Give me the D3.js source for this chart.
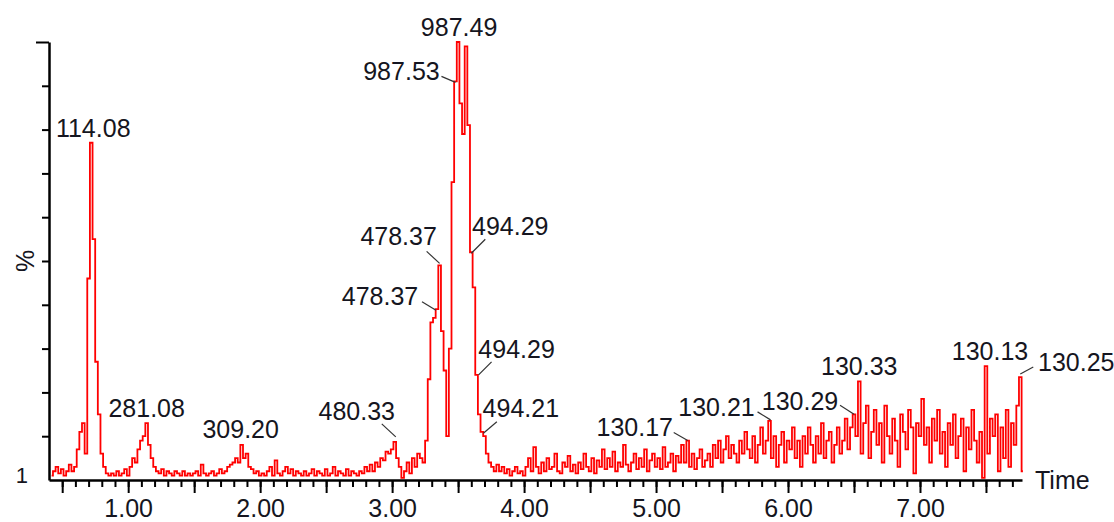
<!DOCTYPE html>
<html>
<head>
<meta charset="utf-8">
<script src="https://cdn.jsdelivr.net/npm/d3@7"></script>
<style>
    body { margin: 0; background: #fff; }
    svg { display: block; font-family: "Liberation Sans", Arial, sans-serif; }
    .axis text { font-size: 25px; fill: #151520; }
    .peak-label { font-size: 25px; fill: #151520; }
    .axis-title { font-size: 25px; fill: #151520; }
</style>
</head>
<body>
<svg id="chart"></svg>
<script>
// one scan every 0.02 min, first scan at 0.42 min
const scanStart = 0.42;
const scanStep = 0.02;

// relative intensity (%) of each scan, 10 scans (0.2 min) per row
const intensity = [
    1, 2, 3, 1.5, 2.5, 1, 2, 3.5, 2, 3,          // 0.42
    7, 11, 13, 6, 46, 77, 55, 27, 15, 6,         // 0.62
    3, 1.5, 1, 1.5, 1, 2, 1, 1.5, 2.5, 1,        // 0.82
    3, 5, 4, 7, 9, 10, 13, 8, 5, 3,              // 1.02
    2, 1.5, 2.5, 1, 2, 1.5, 1, 2, 1.5, 1,        // 1.22
    2, 1, 1.5, 1, 1.5, 2, 1, 3.5, 1.5, 1,        // 1.42
    1.5, 2, 1, 1.5, 2.5, 1.5, 2, 3, 3.5, 4,      // 1.62
    5, 4, 8, 5, 6, 3, 2.5, 1.5, 2, 1,            // 1.82
    1.5, 1, 2, 3, 1, 4.5, 1.5, 1, 2, 3,          // 2.02
    1.5, 2.5, 1, 2, 1.5, 1, 2, 1, 1.5, 2.5,      // 2.22
    1, 2, 1.5, 1, 2.5, 1, 1.5, 3, 1, 2,          // 2.42
    1.5, 1, 2.5, 1, 2, 1.5, 1, 2, 1.5, 3,        // 2.62
    2, 3.5, 2, 4, 3, 5, 4.5, 6.5, 6, 7,          // 2.82
    8.7, 5, 3, 0.5, 2, 4, 1.5, 5, 3, 6,          // 3.02
    5, 4, 9, 23, 36, 37, 39, 49, 34, 25,         // 3.22
    10, 30, 68, 91, 100, 86, 79, 99, 81, 52,     // 3.42
    44, 24, 15, 11, 10, 6, 4, 3, 2, 3.5,         // 3.62
    2, 3, 1.5, 2.5, 1, 2, 3, 1.5, 2, 1,          // 3.82
    3, 5, 2, 7.5, 3, 1.5, 4, 2, 5, 2.5,          // 4.02
    3, 6, 2, 1.5, 4, 3, 5.5, 2, 3.5, 1.5,        // 4.22
    4, 2.5, 6, 3, 2, 5, 1.5, 4.5, 3, 7,          // 4.42
    2.5, 5, 3, 6.5, 2, 4, 3, 8, 3.5, 2,          // 4.62
    4, 6, 2.5, 5, 3, 7, 2, 4.5, 6, 3,            // 4.82
    5, 2.5, 7.5, 3, 4, 6, 2, 5.5, 4, 8,          // 5.02
    4, 9, 3, 6, 2.5, 5, 7, 3, 4.5, 6,            // 5.22
    3, 8, 5, 9, 4, 7, 10, 5, 8, 6,               // 5.42
    4, 9, 6, 11, 7, 5, 10, 4, 8, 12,             // 5.62
    6, 9, 13.5, 5, 10, 3, 8, 11, 4, 9,           // 5.82
    7, 12, 5, 9, 3, 10, 6, 12, 8, 4,             // 6.02
    10, 6, 13, 5, 9, 11, 4, 8, 12, 6,            // 6.22
    9, 14, 7, 12, 15, 10, 22.5, 6, 13, 17,       // 6.42
    5, 11, 16, 8, 13, 4, 17, 10, 6, 14,          // 6.62
    9, 3, 15, 11, 7, 16, 12, 1.5, 13, 10,        // 6.82
    18.5, 8, 12, 4, 14, 9, 16, 6, 11, 3,         // 7.02
    13, 8, 15, 5, 10, 14, 2, 12, 7, 16,          // 7.22
    9, 4, 11, 0.5, 26, 6, 14, 10, 15, 2,         // 7.42
    12, 5, 16, 3, 13, 8, 17, 23.5, 2             // 7.62
];

// labelled peaks: retention time (min) and base peak m/z
const peakTimes = [0.72, 1.14, 1.86, 3.02, 3.34, 3.36, 3.48, 3.50, 3.60, 3.64, 3.68,
    5.24, 5.86, 6.50, 6.54, 7.50, 7.76];
const peakNames = ["114.08", "281.08", "309.20", "480.33", "478.37", "478.37", "987.53", "987.49",
    "494.29", "494.29", "494.21", "130.17", "130.21", "130.29", "130.33", "130.13", "130.25"];

const xTickLabels = [1, 2, 3, 4, 5, 6, 7];
const yTickValues = [10, 20, 30, 40, 50, 60, 70, 80, 90];

class Chromatogram {
    constructor(_config, _data) {
        this.config = {
            parentElement: _config.parentElement,
            containerWidth: 1114,
            containerHeight: 522,
            margin: { top: 42, right: 92, bottom: 42, left: 49 },
        };
        this.data = _data;
        this.initVis();
    }

    initVis() {
        let vis = this;
        vis.width = vis.config.containerWidth - vis.config.margin.left - vis.config.margin.right;
        vis.height = vis.config.containerHeight - vis.config.margin.top - vis.config.margin.bottom;

        vis.svg = d3.select(vis.config.parentElement)
            .attr('width', vis.config.containerWidth)
            .attr('height', vis.config.containerHeight);

        vis.chart = vis.svg.append('g')
            .attr('transform', `translate(${vis.config.margin.left},${vis.config.margin.top})`);

        vis.xScale = d3.scaleLinear().domain([0.4, 7.773]).range([0, vis.width]);
        vis.yScale = d3.scaleLinear().domain([0, 100]).range([vis.height, 0]);

        vis.renderVis();
    }

    renderVis() {
        let vis = this;

        // x axis: minor ticks every 0.1, long ticks every 0.5, labels on whole minutes
        const minorX = d3.range(5, 78).map(d => d / 10);
        const majorX = d3.range(1, 16).map(d => d / 2);

        vis.chart.append('g')
            .attr('class', 'axis x-minor')
            .attr('transform', `translate(0,${vis.height})`)
            .call(d3.axisBottom(vis.xScale).tickValues(minorX).tickSize(7).tickSizeOuter(0).tickFormat(''));

        vis.chart.append('g')
            .attr('class', 'axis x-axis')
            .attr('transform', `translate(0,${vis.height})`)
            .call(d3.axisBottom(vis.xScale).tickValues(majorX).tickSize(13).tickSizeOuter(0).tickPadding(6)
                .tickFormat(d => xTickLabels.includes(d) ? d3.format('.2f')(d) : ''));

        vis.chart.append('g')
            .attr('class', 'axis y-axis')
            .call(d3.axisLeft(vis.yScale).tickValues(yTickValues).tickSize(7).tickSizeOuter(0).tickFormat(''));

        vis.chart.append('g')
            .attr('class', 'axis y-top')
            .call(d3.axisLeft(vis.yScale).tickValues([100]).tickSize(13).tickSizeOuter(0).tickFormat(''))
            .select('.domain').remove();

        vis.chart.selectAll('.axis .tick line').attr('stroke', '#000').attr('stroke-width', 2);
        vis.chart.selectAll('.axis .domain').attr('stroke', '#000').attr('stroke-width', 2.5);
        vis.chart.selectAll('.x-minor .domain').remove();
        vis.chart.selectAll('.axis text').attr('font-family', null).attr('font-size', null);

        // trace
        let line = d3.line()
            .x(d => vis.xScale(d.time))
            .y(d => vis.yScale(d.value))
            .curve(d3.curveStep);

        vis.chart.append('path')
            .datum(vis.data)
            .attr('class', 'line')
            .attr('d', line)
            .style('fill', 'none')
            .style('stroke', '#ff0000')
            .style('stroke-width', 1.8);

        // label placement relative to the peak point: text centre offset and leader line
        const labelLayout = [
            { dx: 2, dy: -6 },
            { dx: 0, dy: -6 },
            { dx: -1, dy: -7 },
            { dx: -38, dy: -22, lead: [-13, -18, 1, -5] },
            { dx: -57, dy: -4, lead: [-15, -7.5, -1, 1] },
            { dx: -41, dy: -20, lead: [-13, -14, 0, -2] },
            { dx: -54, dy: -1.5, lead: [-14, -5, 0, 1] },
            { dx: 1, dy: -6 },
            { dx: 39, dy: -17, lead: [14, -13, 0, 1] },
            { dx: 40, dy: -17, lead: [15, -13, 2, 0] },
            { dx: 39, dy: -15, lead: [15, -10, 1.5, 1.5] },
            { dx: -53, dy: -5, lead: [-14, -8, 0, 0] },
            { dx: -53, dy: -5, lead: [-12, -9, 1, -1] },
            { dx: -54, dy: -4, lead: [-14, -9, 0, 0] },
            { dx: 0, dy: -6.5 },
            { dx: 4, dy: -6 },
            { dx: 56, dy: -6, lead: [13, -10, 0, -3] },
        ];

        const peaks = peakTimes.map((t, i) => {
            const scan = vis.data[Math.round((t - scanStart) / scanStep)];
            return { x: vis.xScale(t), y: vis.yScale(scan.value), name: peakNames[i], layout: labelLayout[i] };
        });

        vis.chart.selectAll('.leader')
            .data(peaks.filter(d => d.layout.lead))
            .enter().append('line')
            .attr('class', 'leader')
            .attr('x1', d => d.x + d.layout.lead[0])
            .attr('y1', d => d.y + d.layout.lead[1])
            .attr('x2', d => d.x + d.layout.lead[2])
            .attr('y2', d => d.y + d.layout.lead[3])
            .attr('stroke', '#333')
            .attr('stroke-width', 1.2);

        vis.chart.selectAll('.peak-label')
            .data(peaks)
            .enter().append('text')
            .attr('class', 'peak-label')
            .attr('text-anchor', 'middle')
            .attr('x', d => d.x + d.layout.dx)
            .attr('y', d => d.y + d.layout.dy)
            .text(d => d.name);

        // axis titles
        vis.chart.append('text')
            .attr('class', 'axis-title')
            .attr('x', vis.width + 13)
            .attr('y', vis.height + 9)
            .text('Time');

        vis.chart.append('text')
            .attr('class', 'axis-title')
            .attr('text-anchor', 'middle')
            .attr('transform', `translate(-15,${vis.yScale(50)}) rotate(-90)`)
            .text('%');

        vis.chart.append('text')
            .attr('class', 'axis-title')
            .attr('text-anchor', 'end')
            .attr('x', -21)
            .attr('y', vis.height + 3)
            .style('font-size', '22px')
            .text('1');
    }
}

const scans = intensity.map((v, i) => ({ time: scanStart + i * scanStep, value: v }));
new Chromatogram({ parentElement: '#chart' }, scans);
</script>
</body>
</html>
